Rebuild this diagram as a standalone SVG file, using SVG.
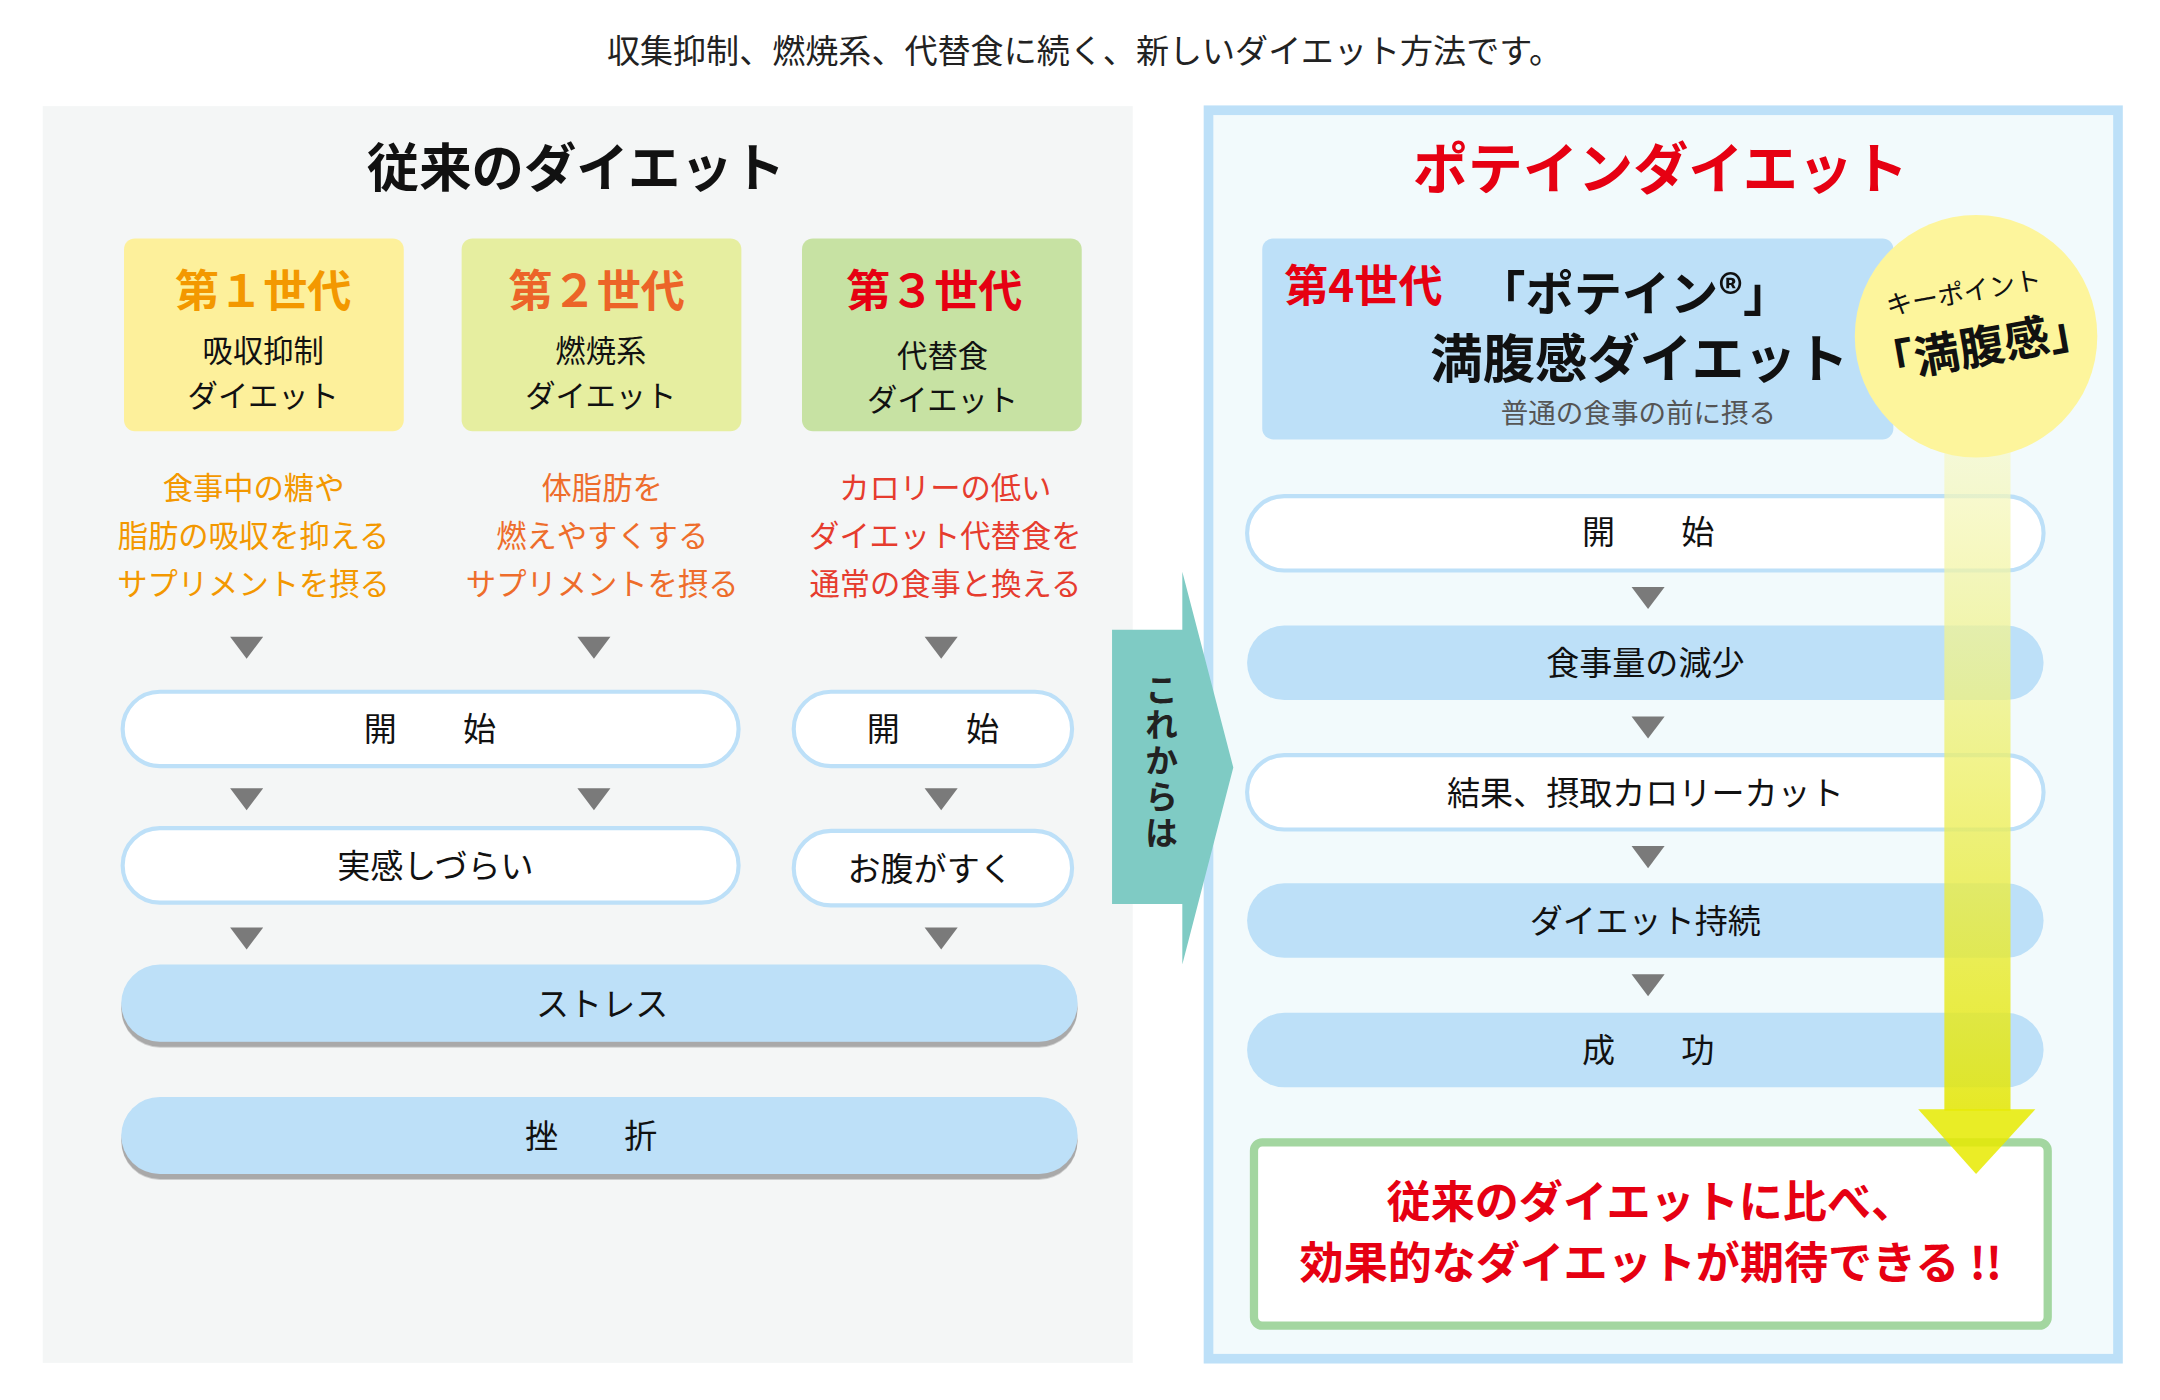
<svg xmlns="http://www.w3.org/2000/svg" width="2160" height="1400" viewBox="0 0 2160 1400">
<defs>
<style>
text{font-family:"Noto Sans CJK JP","Noto Sans",sans-serif;text-anchor:middle}
.b{font-weight:bold}
.tri{fill:#7a7a7a}
.wp{fill:#fff;stroke:#bde0f8;stroke-width:3}
.bp{fill:#bde0f8}
.t22{font-size:22px;fill:#111}
.t24{font-size:24px;fill:#111}
</style>
<linearGradient id="ya" x1="0" y1="0" x2="0" y2="1">
<stop offset="0" stop-color="#f6f8c8" stop-opacity="0.7"/>
<stop offset="1" stop-color="#e4e600" stop-opacity="0.85"/>
</linearGradient>
<filter id="sh"><feDropShadow dx="0" dy="4" stdDeviation="0" flood-color="#a9a9a9"/></filter>
</defs>
<rect width="2160" height="1400" fill="#fff"/>
<g transform="scale(1.378)">
<text x="787" y="46" style="font-size:24px;fill:#222">収集抑制、燃焼系、代替食に続く、新しいダイエット方法です。</text>

<g id="left-panel">
<rect x="31" y="77" width="791" height="912" fill="#f4f6f6"/>
<text x="418" y="136" class="b" style="font-size:38px;fill:#111">従来のダイエット</text>
</g>
<g id="right-panel">
<rect x="877" y="80" width="660" height="906" fill="#f2fafc" stroke="#bde0f8" stroke-width="7"/>
<text x="1205" y="137" class="b" style="font-size:40px;fill:#e60012">ポテインダイエット</text>
</g>
<g id="gen1"><rect x="90" y="173" width="203" height="140" rx="8" fill="#fdf09b"/>
<text x="191" y="223" class="b" style="font-size:32px;fill:#f39800">第１世代</text>
<text x="191" y="263" class="t22">吸収抑制</text><text x="191" y="295" class="t22">ダイエット</text></g>
<g id="gen2"><rect x="335" y="173" width="203" height="140" rx="8" fill="#e6eea0"/>
<text x="433" y="223" class="b" style="font-size:32px;fill:#ec6428">第２世代</text>
<text x="436" y="263" class="t22">燃焼系</text><text x="436" y="295" class="t22">ダイエット</text></g>
<g id="gen3"><rect x="582" y="173" width="203" height="140" rx="8" fill="#c7e2a3"/>
<text x="678" y="223" class="b" style="font-size:32px;fill:#e60012">第３世代</text>
<text x="684" y="266" class="t22">代替食</text><text x="684" y="298" class="t22">ダイエット</text></g>

<g id="desc" style="font-size:22px">
<text x="184" y="362" fill="#f39800">食事中の糖や</text><text x="184" y="397" fill="#f39800">脂肪の吸収を抑える</text><text x="184" y="432" fill="#f39800">サプリメントを摂る</text>
<text x="437" y="362" fill="#ee6d2b">体脂肪を</text><text x="437" y="397" fill="#ee6d2b">燃えやすくする</text><text x="437" y="432" fill="#ee6d2b">サプリメントを摂る</text>
<text x="686" y="362" fill="#e63c2e">カロリーの低い</text><text x="686" y="397" fill="#e63c2e">ダイエット代替食を</text><text x="686" y="432" fill="#e63c2e">通常の食事と換える</text>
</g>

<g id="left-flow">
<rect class="wp" x="89" y="502" width="447" height="54" rx="27"/><text x="312" y="538" class="t24">開　　始</text>
<rect class="wp" x="576" y="502" width="202" height="54" rx="27"/><text x="677" y="538" class="t24">開　　始</text>
<rect class="wp" x="89" y="601" width="447" height="54" rx="27"/><text x="316" y="637" class="t24">実感しづらい</text>
<rect class="wp" x="576" y="603" width="202" height="54" rx="27"/><text x="675" y="639" class="t24">お腹がすく</text>
<rect class="bp" filter="url(#sh)" x="88" y="700" width="694" height="56" rx="28"/><text x="437" y="737" class="t24">ストレス</text>
<rect class="bp" filter="url(#sh)" x="88" y="796" width="694" height="56" rx="28"/><text x="429" y="833" class="t24">挫　　折</text>
</g>

<g id="transition">
<polygon points="807,457 858,457 858,415 895,557 858,700 858,656 807,656" fill="#7fcbc4"/>
<text x="843" y="488" class="b" style="font-size:24px;fill:#222;writing-mode:vertical-rl;text-anchor:start;letter-spacing:2px">これからは</text>
</g>

<g id="gen4"><rect x="916" y="173" width="458" height="146" rx="8" fill="#bde0f8"/>
<text x="932" y="219" class="b" style="font-size:32px;fill:#e60012;text-anchor:start">第4世代</text>
<text x="1072" y="226" class="b" style="font-size:35px;fill:#111;text-anchor:start">「ポテイン®」</text>
<text x="1038" y="274" class="b" style="font-size:38px;fill:#111;text-anchor:start">満腹感ダイエット</text>
<text x="1189" y="307" style="font-size:20px;fill:#555">普通の食事の前に摂る</text></g>

<g id="right-flow">
<rect class="wp" x="905" y="360" width="578" height="54" rx="27"/><text x="1196" y="395" class="t24">開　　始</text>
<rect class="bp" x="905" y="454" width="578" height="54" rx="27"/><text x="1194" y="490" class="t24">食事量の減少</text>
<rect class="wp" x="905" y="548" width="578" height="54" rx="27"/><text x="1194" y="584" class="t24">結果、摂取カロリーカット</text>
<rect class="bp" x="905" y="641" width="578" height="54" rx="27"/><text x="1194" y="677" class="t24">ダイエット持続</text>
<rect class="bp" x="905" y="735" width="578" height="54" rx="27"/><text x="1196" y="771" class="t24">成　　功</text>
</g>

<g id="connectors">
<polygon class="tri" points="167,462 191,462 179,478"/><polygon class="tri" points="419,462 443,462 431,478"/><polygon class="tri" points="671,462 695,462 683,478"/>
<polygon class="tri" points="167,572 191,572 179,588"/><polygon class="tri" points="419,572 443,572 431,588"/><polygon class="tri" points="671,572 695,572 683,588"/>
<polygon class="tri" points="167,673 191,673 179,689"/><polygon class="tri" points="671,673 695,673 683,689"/>
<polygon class="tri" points="1184,426 1208,426 1196,442"/><polygon class="tri" points="1184,520 1208,520 1196,536"/><polygon class="tri" points="1184,614 1208,614 1196,630"/><polygon class="tri" points="1184,707 1208,707 1196,723"/>
</g>

<g id="result"><rect x="910" y="829" width="576" height="133" rx="6" fill="#fff" stroke="#a3d6a0" stroke-width="6"/>
<text x="1198" y="884" class="b" style="font-size:32px;fill:#e60012">従来のダイエットに比べ、</text>
<text x="1198" y="928" class="b" style="font-size:32px;fill:#e60012">効果的なダイエットが期待できる !!</text></g>

<g id="keypoint">
<rect x="1411" y="326" width="48" height="480" fill="url(#ya)"/>
<polygon points="1392,805 1477,805 1434,852" fill="#e8ea00" fill-opacity="0.85"/>
<circle cx="1434" cy="244" r="88" fill="#fdf59c"/>
<g transform="rotate(-10 1434 240)">
<text x="1430" y="218" style="font-size:19px;fill:#111">キーポイント</text>
<text x="1436" y="264" class="b" style="font-size:33px;fill:#111">「満腹感」</text></g>
</g>
</g>
</svg>
